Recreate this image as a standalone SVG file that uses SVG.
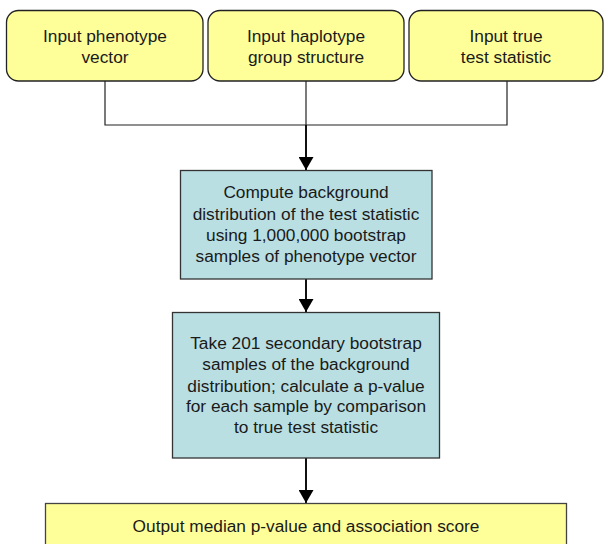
<svg xmlns="http://www.w3.org/2000/svg" width="604" height="544" viewBox="0 0 604 544">
<style>
.in{fill:#FFFF99;stroke:#222;stroke-width:1.3}
.pr{fill:#B9DFE3;stroke:#333;stroke-width:1.3}
.out{fill:#FFFF99;stroke:#444;stroke-width:1.3}
text{font-family:"Liberation Sans",Arial,sans-serif;font-size:17.3px;fill:#1a1a1a;text-anchor:middle}
.c{fill:none;stroke:#222;stroke-width:1.2}
.a{fill:none;stroke:#111;stroke-width:2}
</style>
<defs>
<marker id="ah" markerWidth="13" markerHeight="15" refX="13" refY="7.5" orient="auto" markerUnits="userSpaceOnUse">
<path d="M0,0 L13,7.5 L0,15 Z" fill="#000"/>
</marker>
</defs>
<rect width="604" height="544" fill="#fff"/>
<g id="connectors">
<path class="c" d="M105,81 V125 H507 V81"/>
<path class="c" d="M306,81 V125"/>
<path class="a" d="M306,125 V170" marker-end="url(#ah)"/>
<path class="a" d="M306,279 V312" marker-end="url(#ah)"/>
<path class="a" d="M306,458 V503" marker-end="url(#ah)"/>
</g>
<g id="n1">
<rect class="in" x="6.5" y="10.5" width="196.5" height="70.5" rx="12"/>
<text x="105" y="42">Input phenotype</text>
<text x="105" y="63">vector</text>
</g>
<g id="n2">
<rect class="in" x="208" y="10.5" width="196" height="70.5" rx="12"/>
<text x="306" y="42">Input haplotype</text>
<text x="306" y="63">group structure</text>
</g>
<g id="n3">
<rect class="in" x="409" y="10.5" width="194" height="70.5" rx="12"/>
<text x="506" y="42">Input true</text>
<text x="506" y="63">test statistic</text>
</g>
<g id="n4">
<rect class="pr" x="180.5" y="170.5" width="251.5" height="108.5"/>
<text x="306" y="198">Compute background</text>
<text x="306" y="220">distribution of the test statistic</text>
<text x="306" y="241">using 1,000,000 bootstrap</text>
<text x="306" y="262">samples of phenotype vector</text>
</g>
<g id="n5">
<rect class="pr" x="172.5" y="312.5" width="267" height="145.5"/>
<text x="306" y="349">Take 201 secondary bootstrap</text>
<text x="306" y="370">samples of the background</text>
<text x="306" y="392">distribution; calculate a p-value</text>
<text x="306" y="412">for each sample by comparison</text>
<text x="306" y="433">to true test statistic</text>
</g>
<g id="n6">
<rect class="out" x="45.5" y="503.5" width="521" height="60"/>
<text x="306" y="532">Output median p-value and association score</text>
</g>
</svg>
